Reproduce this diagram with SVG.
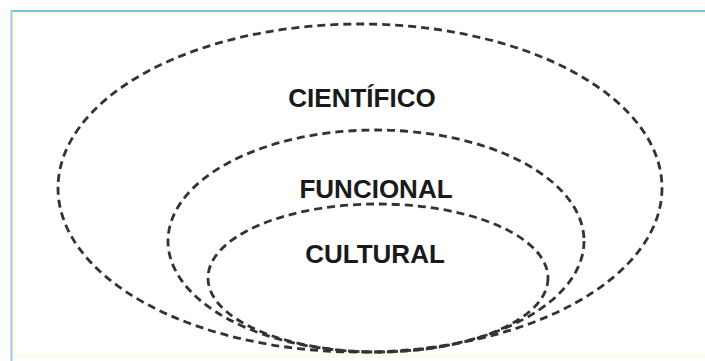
<svg xmlns="http://www.w3.org/2000/svg" width="705" height="361" viewBox="0 0 705 361">
  <style>
    .ring { fill: none; stroke: #333; stroke-width: 2.8; stroke-dasharray: 8 5; }
    .label { font-family: "Liberation Sans", Arial, sans-serif; font-weight: bold; font-size: 26px; fill: #1a1a1a; text-anchor: middle; }
  </style>
  <rect x="0" y="0" width="705" height="361" fill="#ffffff"/>
  <!-- frame -->
  <g id="frame">
    <rect x="14" y="14" width="700" height="342" fill="none" stroke="#fdfbea" stroke-width="3"/>
    <line x1="11" y1="11" x2="705" y2="11" stroke="#6cc6d6" stroke-width="2"/>
    <line x1="11.5" y1="11" x2="11.5" y2="361" stroke="#a9c6e6" stroke-width="2"/>
  </g>
  <g id="cientifico">
    <ellipse class="ring" cx="360" cy="188" rx="302" ry="164"/>
    <text class="label" x="362" y="107">CIENTÍFICO</text>
  </g>
  <g id="funcional">
    <ellipse class="ring" cx="376" cy="241" rx="208" ry="111"/>
    <text class="label" x="376" y="198">FUNCIONAL</text>
  </g>
  <g id="cultural">
    <ellipse class="ring" cx="378" cy="278" rx="170" ry="74"/>
    <text class="label" x="375" y="263">CULTURAL</text>
  </g>
</svg>
